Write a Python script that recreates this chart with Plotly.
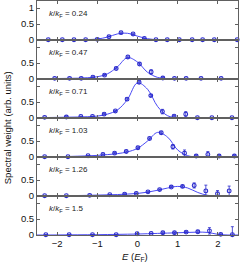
import plotly.graph_objects as go
from plotly.subplots import make_subplots

# ---- data ----
k_labels = ["0.24", "0.47", "0.71", "1.03", "1.26", "1.5"]

# measured points (E in units of E_F, spectral weight)
pts_E = [
    [-2.22, -1.87, -1.58, -1.29, -1.0, -0.71, -0.41, -0.11, 0.17, 0.46, 0.74, 1.04, 1.36, 1.62, 1.91, 2.48],
    [-2.06, -1.69, -1.40, -1.11, -0.82, -0.53, -0.24, 0.05, 0.34, 0.63, 0.92, 1.21, 1.58, 2.08],
    [-2.31, -1.77, -1.41, -1.12, -0.83, -0.55, -0.26, 0.04, 0.33, 0.62, 0.91, 1.20, 1.49, 1.85, 2.35],
    [-2.31, -1.73, -1.23, -0.86, -0.57, -0.28, 0.01, 0.30, 0.59, 0.88, 1.17, 1.46, 1.75, 2.03, 2.41],
    [-2.31, -1.77, -1.19, -0.69, -0.32, -0.03, 0.26, 0.55, 0.84, 1.12, 1.41, 1.70, 1.99, 2.28],
    [-2.28, -1.70, -1.12, -0.53, -0.01, 0.34, 0.63, 0.92, 1.21, 1.50, 1.79, 2.07, 2.36],
]
pts_W = [
    [0.01, 0.01, 0.01, 0.01, 0.02, 0.10, 0.23, 0.19, 0.05, 0.01, 0.01, 0.01, 0.01, 0.01, 0.01, 0.01],
    [0.02, 0.02, 0.02, 0.06, 0.12, 0.33, 0.69, 0.47, 0.22, 0.03, 0.02, 0.02, 0.02, 0.02],
    [0.02, 0.03, 0.05, 0.05, 0.12, 0.22, 0.59, 1.12, 0.70, 0.20, 0.06, 0.12, 0.01, 0.01, 0.01],
    [0.01, 0.01, 0.04, 0.08, 0.12, 0.17, 0.29, 0.58, 0.76, 0.32, 0.12, 0.03, 0.08, 0.03, 0.03],
    [0.01, 0.01, 0.02, 0.04, 0.06, 0.08, 0.13, 0.20, 0.28, 0.30, 0.33, 0.16, 0.07, 0.16],
    [0.01, 0.01, 0.01, 0.01, 0.04, 0.05, 0.07, 0.07, 0.09, 0.10, 0.13, 0.02, 0.01],
]
pts_err_up = [
    [0.01, 0.01, 0.01, 0.01, 0.01, 0.01, 0.02, 0.02, 0.01, 0.01, 0.01, 0.01, 0.01, 0.01, 0.01, 0.01],
    [0.01, 0.01, 0.01, 0.01, 0.02, 0.02, 0.03, 0.03, 0.07, 0.02, 0.01, 0.01, 0.01, 0.01],
    [0.01, 0.01, 0.01, 0.01, 0.02, 0.02, 0.03, 0.03, 0.03, 0.07, 0.02, 0.08, 0.01, 0.01, 0.01],
    [0.01, 0.01, 0.01, 0.02, 0.02, 0.02, 0.02, 0.02, 0.03, 0.07, 0.10, 0.02, 0.09, 0.02, 0.02],
    [0.01, 0.01, 0.01, 0.01, 0.01, 0.02, 0.02, 0.02, 0.02, 0.03, 0.08, 0.18, 0.10, 0.15],
    [0.01, 0.01, 0.01, 0.01, 0.01, 0.01, 0.02, 0.02, 0.02, 0.03, 0.10, 0.02, 0.25],
]

# fitted curves
fit_E = [-2.5, -2.25, -2.0, -1.75, -1.5, -1.25, -1.0, -0.75, -0.5, -0.25, 0.0, 0.25,
         0.5, 0.75, 1.0, 1.25, 1.5, 1.75, 2.0, 2.25, 2.5]
fit_W = [
    [0.0, 0.0, 0.0, 0.004, 0.008, 0.014, 0.03, 0.09, 0.19, 0.21, 0.12, 0.04, 0.01, 0.0, 0.0, 0.0, 0.0, 0.0, 0.0, 0.0, 0.0],
    [0.01, 0.01, 0.015, 0.02, 0.025, 0.04, 0.07, 0.16, 0.38, 0.67, 0.53, 0.21, 0.05, 0.012, 0.004, 0.0, 0.0, 0.0, 0.0, 0.0, 0.0],
    [0.01, 0.015, 0.02, 0.025, 0.03, 0.04, 0.06, 0.12, 0.25, 0.58, 1.10, 0.90, 0.36, 0.07, 0.01, 0.0, 0.0, 0.0, 0.0, 0.0, 0.0],
    [0.005, 0.007, 0.01, 0.015, 0.025, 0.035, 0.05, 0.075, 0.105, 0.16, 0.27, 0.50, 0.77, 0.62, 0.22, 0.04, 0.005, 0.0, 0.0, 0.0, 0.0],
    [0.005, 0.006, 0.008, 0.01, 0.015, 0.02, 0.028, 0.036, 0.045, 0.06, 0.08, 0.12, 0.18, 0.25, 0.30, 0.25, 0.11, 0.02, 0.0, 0.0, 0.0],
    [0.0, 0.0, 0.002, 0.004, 0.006, 0.008, 0.01, 0.015, 0.02, 0.025, 0.03, 0.04, 0.05, 0.06, 0.07, 0.08, 0.09, 0.08, 0.02, 0.0, 0.0],
]

x_ticks = [-2, -1, 0, 1, 2]
y_ticks_top = [0, 0.5, 1]
y_ticks_other = [0, 0.5]
y_minor_other = [1]

# ---- figure ----
LINE_C = "#4a4af5"
MARK_C = "#2a2acc"
FRAME_C = "#606060"
FONT = "Liberation Sans, Arial, sans-serif"

n = len(k_labels)
fig = make_subplots(rows=n, cols=1, shared_xaxes=True, vertical_spacing=0)

for i in range(n):
    r = i + 1
    fig.add_trace(go.Scatter(x=fit_E, y=fit_W[i], mode="lines", line_shape="spline",
                             line=dict(color=LINE_C, width=1), cliponaxis=True,
                             showlegend=False, hoverinfo="skip"), row=r, col=1)
    err_minus = [min(e, w) for e, w in zip(pts_err_up[i], pts_W[i])]
    fig.add_trace(go.Scatter(x=pts_E[i], y=pts_W[i], mode="markers", cliponaxis=False,
                             marker=dict(symbol="circle-open", size=3.8, color=MARK_C,
                                         line=dict(width=1.1, color=MARK_C)),
                             error_y=dict(type="data", array=pts_err_up[i], arrayminus=err_minus,
                                          symmetric=False, color=MARK_C, thickness=0.8, width=1.5),
                             showlegend=False), row=r, col=1)
    if r == 1:
        tv = y_ticks_top
        minor = dict(ticks="")
    else:
        tv = y_ticks_other
        minor = dict(tickvals=y_minor_other, ticks="inside", ticklen=3, tickcolor=FRAME_C)
    fig.update_yaxes(range=[0, 1.22], tickvals=tv, ticks="inside", minor=minor,
                     ticklen=3, tickcolor=FRAME_C, showline=True, linecolor=FRAME_C, linewidth=1,
                     mirror="ticks", showgrid=False, zeroline=False,
                     tickfont=dict(size=9.5, color="#111"), row=r, col=1)
    fig.update_xaxes(range=[-2.5, 2.5], tickvals=x_ticks, ticks="inside", ticklen=3,
                     tickcolor=FRAME_C, showline=True, linecolor=FRAME_C, linewidth=1,
                     mirror="ticks", showgrid=False, zeroline=False,
                     showticklabels=(r == n), tickfont=dict(size=9.5, color="#111"),
                     row=r, col=1)
    ydom = "y domain" if r == 1 else f"y{r} domain"
    fig.add_annotation(xref="paper", yref=ydom, x=0.052, y=0.66, xanchor="left", yanchor="middle",
                       text=f"<i>k</i>/<i>k</i><sub>F</sub> = {k_labels[i]}", showarrow=False,
                       font=dict(size=8, color="#222", family=FONT))

fig.add_annotation(xref="paper", yref="paper", x=-0.145, y=0.46, textangle=-90,
                   text="Spectral weight (arb. units)", showarrow=False,
                   xanchor="center", yanchor="middle", font=dict(size=9.5, color="#111", family=FONT))
fig.add_annotation(xref="paper", yref="paper", x=0.49, y=-0.094,
                   text="<i>E</i> (<i>E</i><sub>F</sub>)", showarrow=False,
                   xanchor="center", yanchor="middle", font=dict(size=9.5, color="#111", family=FONT))

fig.update_layout(width=240, height=266, margin=dict(l=37, r=2, t=1, b=31),
                  paper_bgcolor="white", plot_bgcolor="white",
                  font=dict(family=FONT, size=9.5, color="#111"))

fig.write_html("out.html", config={"displayModeBar": False})

# remove the browser's default page margin so the figure sits at the window's corner
with open("out.html", "r", encoding="utf-8") as f:
    html = f.read()
html = html.replace("<head>", "<head><style>html,body{margin:0;padding:0;overflow:hidden;}</style>", 1)
with open("out.html", "w", encoding="utf-8") as f:
    f.write(html)
